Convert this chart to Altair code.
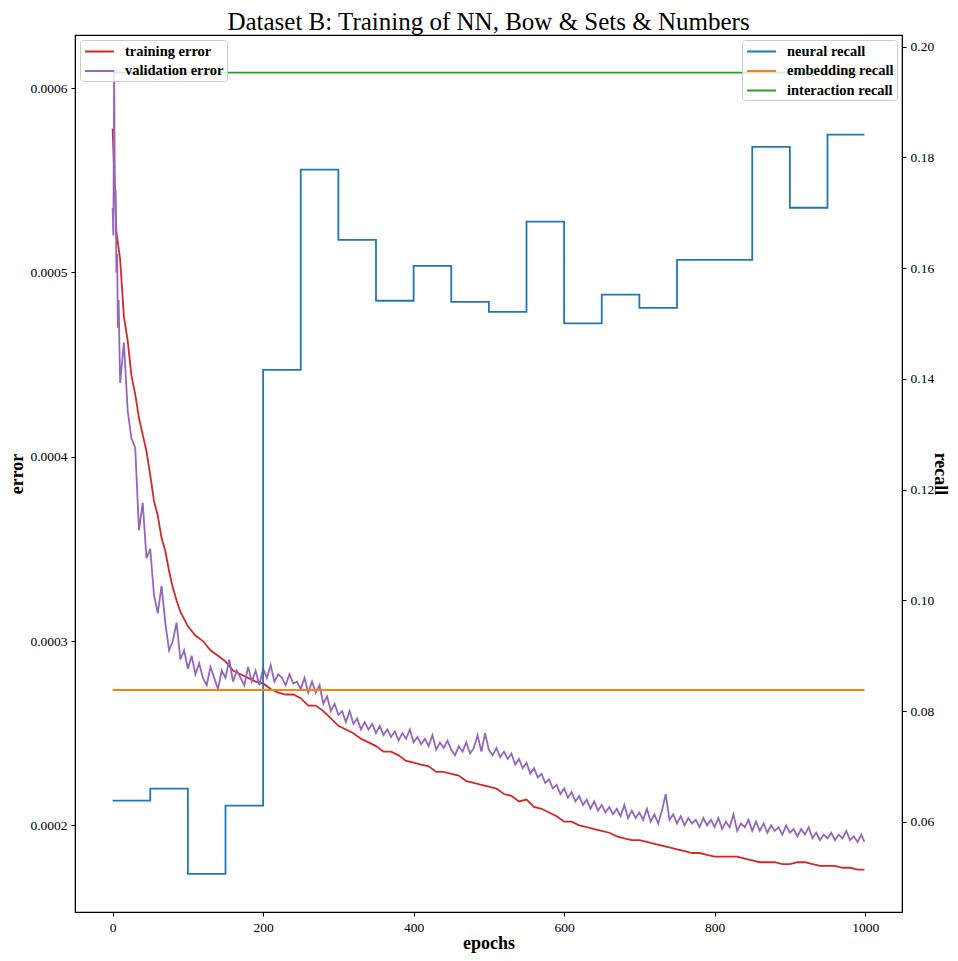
import altair as alt
import pandas as pd

FONT = "Liberation Serif"

# ---- data ----
train_epochs = list(range(0, 100, 5)) + list(range(100, 1000, 10)) + [999]
train_error = [
    5.78e-4, 5.22e-4, 5.07e-4, 4.76e-4, 4.63e-4, 4.44e-4, 4.34e-4, 4.21e-4, 4.12e-4, 4.03e-4,
    3.90e-4, 3.76e-4, 3.68e-4, 3.56e-4, 3.49e-4, 3.38e-4, 3.29e-4, 3.22e-4, 3.16e-4, 3.12e-4,
    3.08e-4, 3.03e-4, 3.00e-4, 2.95e-4, 2.92e-4, 2.89e-4, 2.84e-4, 2.82e-4, 2.80e-4, 2.78e-4,
    2.77e-4, 2.74e-4, 2.72e-4, 2.71e-4, 2.71e-4, 2.69e-4, 2.65e-4, 2.65e-4, 2.62e-4, 2.58e-4,
    2.54e-4, 2.52e-4, 2.50e-4, 2.47e-4, 2.45e-4, 2.43e-4, 2.40e-4, 2.40e-4, 2.38e-4, 2.35e-4,
    2.34e-4, 2.33e-4, 2.32e-4, 2.29e-4, 2.29e-4, 2.28e-4, 2.27e-4, 2.24e-4, 2.23e-4, 2.22e-4,
    2.21e-4, 2.20e-4, 2.17e-4, 2.16e-4, 2.13e-4, 2.14e-4, 2.10e-4, 2.09e-4, 2.07e-4, 2.05e-4,
    2.02e-4, 2.02e-4, 2.00e-4, 1.99e-4, 1.98e-4, 1.97e-4, 1.96e-4, 1.94e-4, 1.93e-4, 1.92e-4,
    1.92e-4, 1.91e-4, 1.90e-4, 1.89e-4, 1.88e-4, 1.87e-4, 1.86e-4, 1.85e-4, 1.85e-4, 1.84e-4,
    1.83e-4, 1.83e-4, 1.83e-4, 1.83e-4, 1.82e-4, 1.81e-4, 1.80e-4, 1.80e-4, 1.80e-4, 1.79e-4,
    1.79e-4, 1.80e-4, 1.80e-4, 1.79e-4, 1.78e-4, 1.78e-4, 1.78e-4, 1.77e-4, 1.77e-4, 1.76e-4,
    1.76e-4,
]

val_epochs = [0, 1, 2, 3, 4, 5, 6, 7, 8, 9] + list(range(10, 1000, 5)) + [999]
val_error = [
    5.35e-4, 5.20e-4, 6.10e-4, 5.40e-4, 5.45e-4, 5.00e-4, 5.10e-4, 4.70e-4, 4.85e-4, 4.60e-4,
    4.40e-4, 4.62e-4, 4.25e-4, 4.10e-4, 4.05e-4, 3.60e-4, 3.75e-4, 3.45e-4, 3.50e-4, 3.25e-4,
    3.15e-4, 3.30e-4, 3.10e-4, 2.95e-4, 3.00e-4, 3.10e-4, 2.90e-4, 2.95e-4, 2.85e-4, 2.92e-4,
    2.82e-4, 2.88e-4, 2.80e-4, 2.76e-4, 2.86e-4, 2.80e-4, 2.74e-4, 2.84e-4, 2.80e-4, 2.90e-4,
    2.78e-4, 2.84e-4, 2.80e-4, 2.76e-4, 2.86e-4, 2.78e-4, 2.84e-4, 2.76e-4, 2.85e-4, 2.80e-4,
    2.87e-4, 2.78e-4, 2.82e-4, 2.80e-4, 2.76e-4, 2.82e-4, 2.77e-4, 2.78e-4, 2.74e-4, 2.80e-4,
    2.72e-4, 2.78e-4, 2.72e-4, 2.76e-4, 2.66e-4, 2.70e-4, 2.62e-4, 2.66e-4, 2.60e-4, 2.62e-4,
    2.56e-4, 2.62e-4, 2.55e-4, 2.58e-4, 2.52e-4, 2.56e-4, 2.52e-4, 2.55e-4, 2.50e-4, 2.54e-4,
    2.49e-4, 2.52e-4, 2.48e-4, 2.51e-4, 2.46e-4, 2.50e-4, 2.47e-4, 2.52e-4, 2.45e-4, 2.48e-4,
    2.44e-4, 2.47e-4, 2.43e-4, 2.49e-4, 2.41e-4, 2.45e-4, 2.42e-4, 2.46e-4, 2.41e-4, 2.38e-4,
    2.43e-4, 2.40e-4, 2.45e-4, 2.39e-4, 2.42e-4, 2.49e-4, 2.40e-4, 2.50e-4, 2.41e-4, 2.38e-4,
    2.42e-4, 2.37e-4, 2.40e-4, 2.36e-4, 2.39e-4, 2.33e-4, 2.36e-4, 2.31e-4, 2.34e-4, 2.28e-4,
    2.31e-4, 2.26e-4, 2.28e-4, 2.23e-4, 2.25e-4, 2.20e-4, 2.22e-4, 2.17e-4, 2.20e-4, 2.15e-4,
    2.18e-4, 2.13e-4, 2.16e-4, 2.11e-4, 2.14e-4, 2.09e-4, 2.13e-4, 2.08e-4, 2.11e-4, 2.07e-4,
    2.10e-4, 2.06e-4, 2.09e-4, 2.05e-4, 2.11e-4, 2.04e-4, 2.08e-4, 2.04e-4, 2.07e-4, 2.03e-4,
    2.09e-4, 2.02e-4, 2.06e-4, 2.01e-4, 2.08e-4, 2.17e-4, 2.03e-4, 2.06e-4, 2.01e-4, 2.05e-4,
    2.00e-4, 2.04e-4, 2.01e-4, 2.03e-4, 1.99e-4, 2.04e-4, 2.00e-4, 2.03e-4, 1.99e-4, 2.04e-4,
    1.98e-4, 2.02e-4, 1.99e-4, 2.06e-4, 1.97e-4, 2.01e-4, 1.99e-4, 2.03e-4, 1.97e-4, 2.02e-4,
    1.97e-4, 2.01e-4, 1.96e-4, 2.00e-4, 1.97e-4, 1.99e-4, 1.95e-4, 2.00e-4, 1.96e-4, 1.98e-4,
    1.94e-4, 1.98e-4, 1.95e-4, 1.99e-4, 1.93e-4, 1.96e-4, 1.92e-4, 1.95e-4, 1.93e-4, 1.96e-4,
    1.92e-4, 1.95e-4, 1.93e-4, 1.97e-4, 1.92e-4, 1.94e-4, 1.91e-4, 1.95e-4,
    1.91e-4,
]

recall_epochs = [0, 50, 100, 150, 200, 250, 300, 350, 400, 450, 500,
                 550, 600, 650, 700, 750, 800, 850, 900, 950, 999]
neural_recall = [0.0638, 0.0660, 0.0506, 0.0629, 0.1416, 0.1778, 0.1651, 0.1541, 0.1604, 0.1539,
                 0.1521, 0.1684, 0.1500, 0.1552, 0.1528, 0.1615, 0.1615, 0.1819, 0.1709, 0.1841,
                 0.1841]
embedding_recall = 0.0838
interaction_recall = 0.1953

error_series = ["training error", "validation error"]
error_colors = ["#d62728", "#9467bd"]
recall_series = ["neural recall", "embedding recall", "interaction recall"]
recall_colors = ["#1f77b4", "#ff7f0e", "#2ca02c"]

# ---- tables ----
err_df = pd.concat([
    pd.DataFrame({"epoch": train_epochs, "value": train_error, "series": error_series[0]}),
    pd.DataFrame({"epoch": val_epochs, "value": val_error, "series": error_series[1]}),
])
rec_df = pd.concat([
    pd.DataFrame({"epoch": recall_epochs, "value": neural_recall, "series": recall_series[0]}),
    pd.DataFrame({"epoch": [0, 999], "value": [embedding_recall] * 2, "series": recall_series[1]}),
    pd.DataFrame({"epoch": [0, 999], "value": [interaction_recall] * 2, "series": recall_series[2]}),
])

axis_style = dict(
    grid=False, labelFont=FONT, labelFontSize=13.5, labelColor="black",
    titleFont=FONT, titleFontSize=18, titleFontWeight="bold", titleColor="black",
    tickColor="black", domainColor="black", tickSize=4, labelPadding=4,
)

x_enc = alt.X("epoch:Q",
              scale=alt.Scale(domain=[-50, 1049], nice=False, zero=False),
              axis=alt.Axis(values=[0, 200, 400, 600, 800, 1000], format="d",
                            title="epochs", titlePadding=1, **axis_style))

legend_common = dict(
    title=None, fillColor="rgba(255,255,255,0.8)", strokeColor="#cccccc",
    cornerRadius=3, padding=3, symbolType="M-2,0L2,0", symbolSize=210,
    symbolOffset=8, symbolStrokeWidth=2, labelFont=FONT, labelFontSize=14.5,
    labelFontWeight="bold", labelOffset=17, rowPadding=4.5, labelColor="black",
)

err_chart = alt.Chart(err_df).mark_line(strokeWidth=1.8).encode(
    x=x_enc,
    y=alt.Y("value:Q",
            scale=alt.Scale(domain=[0.000153, 0.0006288], nice=False, zero=False),
            axis=alt.Axis(orient="left", values=[0.0002, 0.0003, 0.0004, 0.0005, 0.0006],
                          format=".4f", title="error", titlePadding=3, **axis_style)),
    color=alt.Color("series:N",
                    scale=alt.Scale(domain=error_series, range=error_colors),
                    legend=alt.Legend(orient="top-left", offset=5, **legend_common)),
)

rec_chart = alt.Chart(rec_df).mark_line(strokeWidth=1.8, interpolate="step-after").encode(
    x=x_enc,
    y=alt.Y("value:Q",
            scale=alt.Scale(domain=[0.0437, 0.2021], nice=False, zero=False),
            axis=alt.Axis(orient="right",
                          values=[0.06, 0.08, 0.10, 0.12, 0.14, 0.16, 0.18, 0.20],
                          format=".2f", title="recall", titlePadding=-3, **axis_style)),
    color=alt.Color("series:N",
                    scale=alt.Scale(domain=recall_series, range=recall_colors),
                    sort=recall_series,
                    legend=alt.Legend(orient="top-right", offset=5, **legend_common)),
)

chart = alt.layer(err_chart, rec_chart).resolve_scale(
    y="independent", color="independent"
).properties(
    width=827, height=877,
    background="white",
    autosize=alt.AutoSizeParams(type="none"),
    padding={"left": 67, "top": 27, "right": 48, "bottom": 41},
    title=alt.TitleParams("Dataset B: Training of NN, Bow & Sets & Numbers",
                          font=FONT, fontSize=25, fontWeight="normal",
                          anchor="middle", offset=0, color="black"),
).configure_view(
    stroke="black", strokeWidth=1.2
)

chart.save("out.html", embed_options={"renderer": "svg", "actions": False})
